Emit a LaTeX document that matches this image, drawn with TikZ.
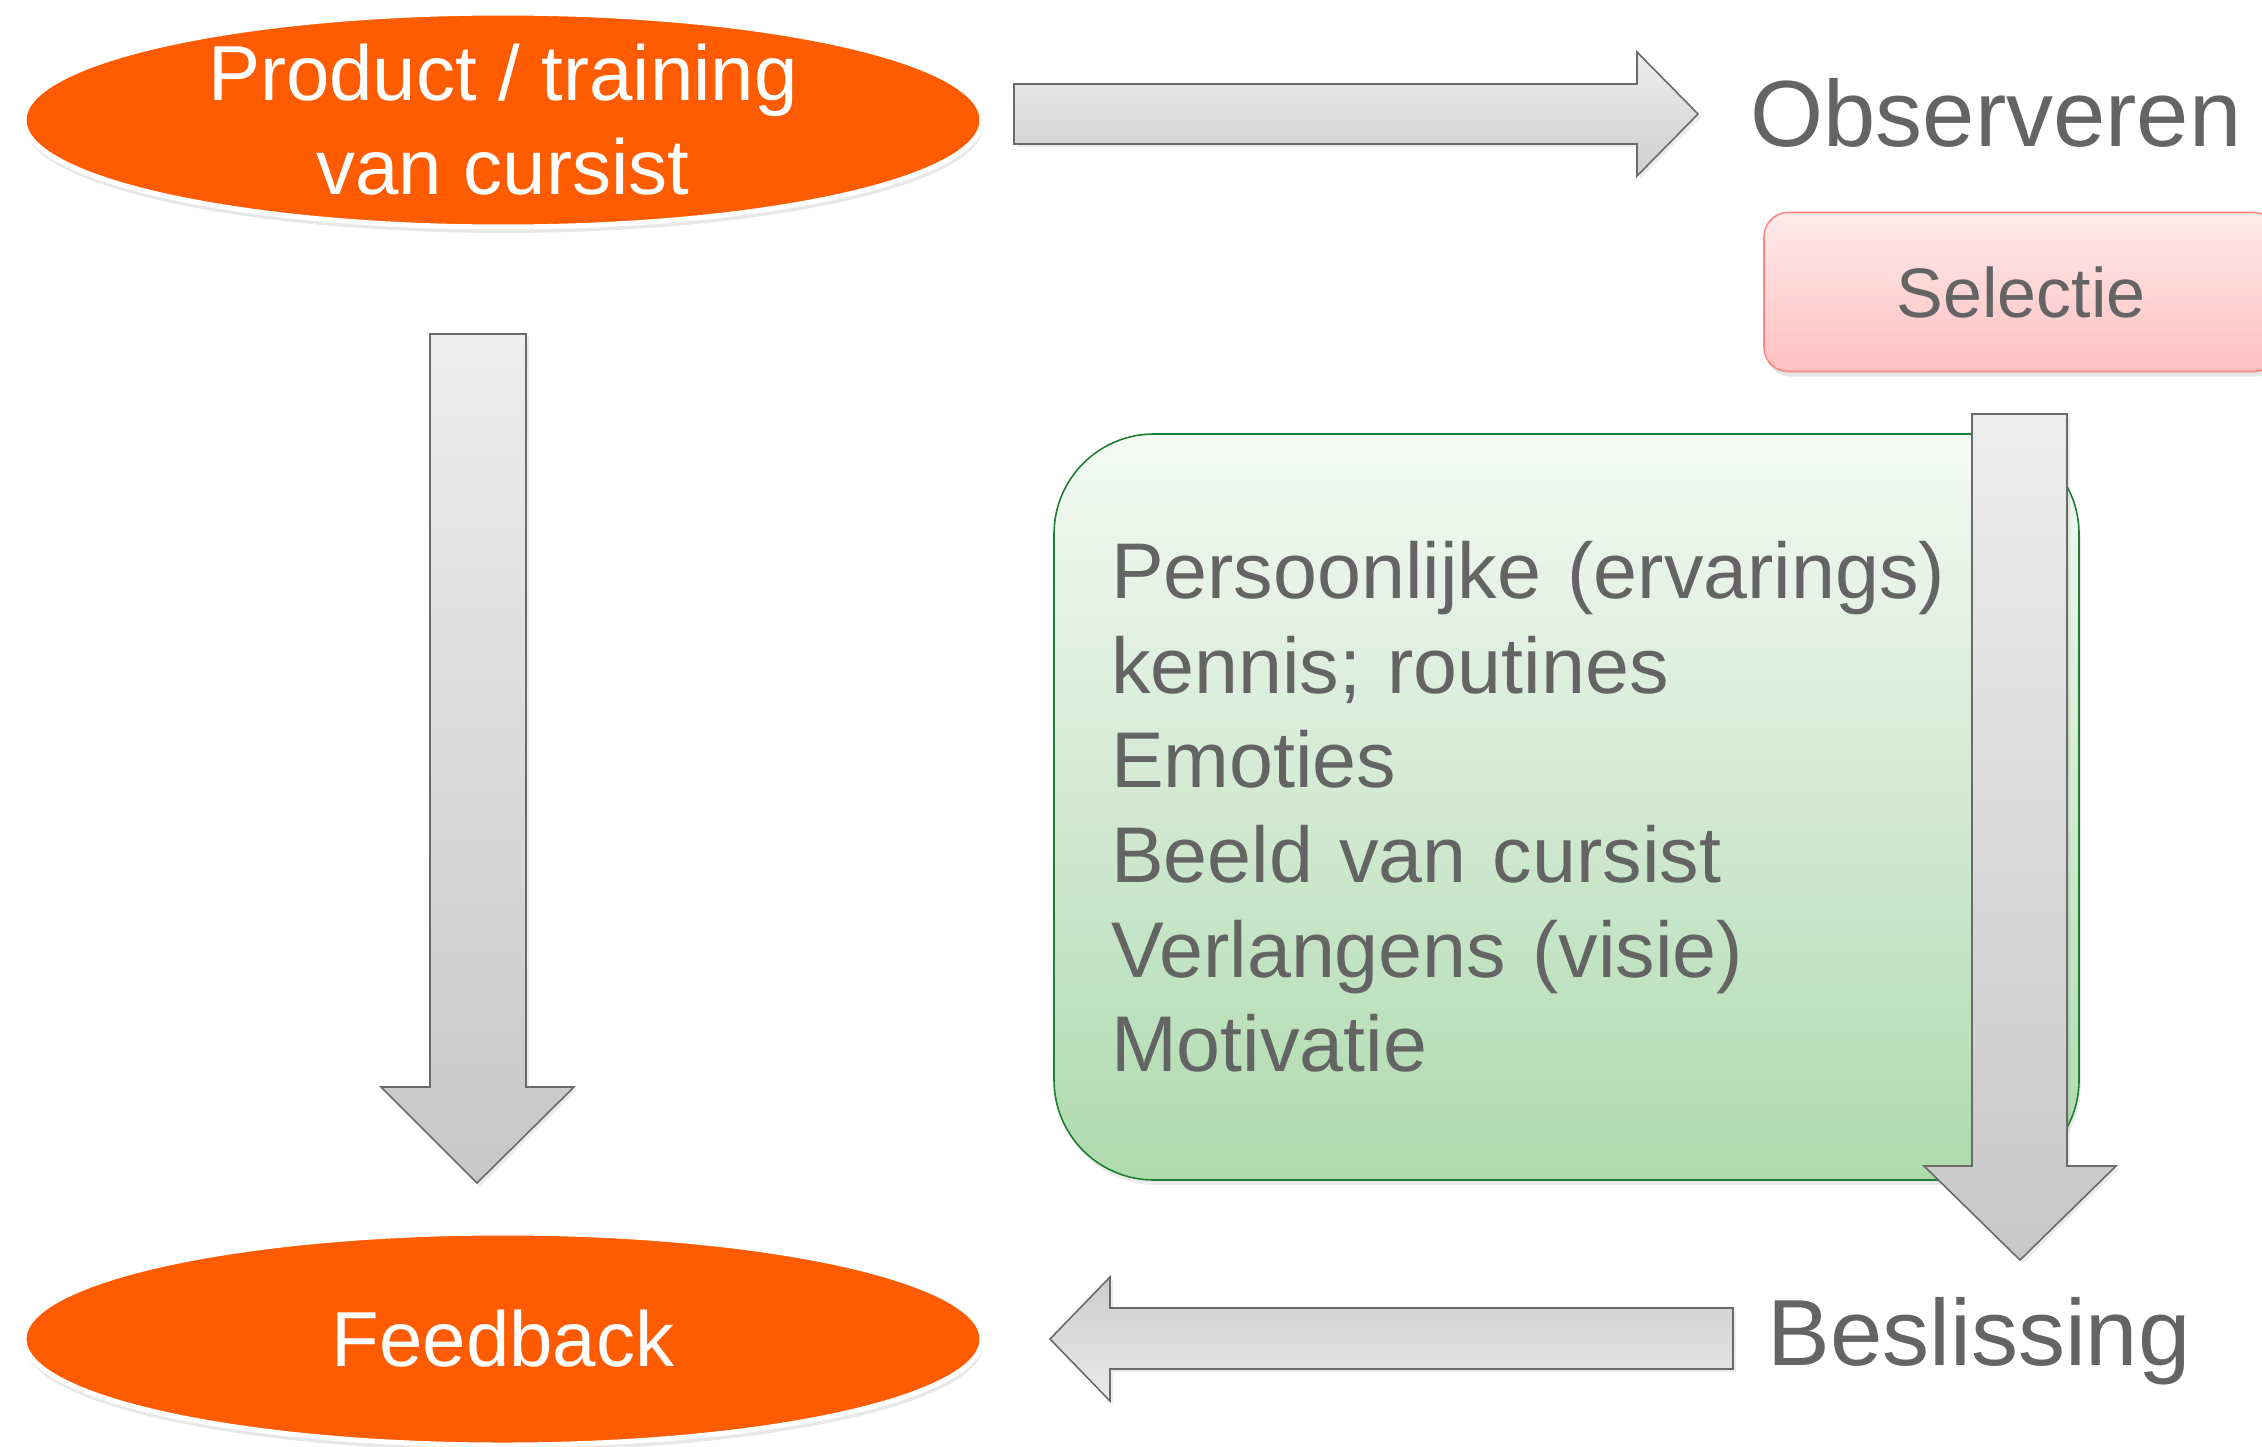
\documentclass[tikz,border=0pt]{standalone}
\usepackage{fontspec}
\setmainfont{Liberation Sans}
\usetikzlibrary{shapes.geometric,shadows}

\definecolor{evalorange}{HTML}{FF5B00}
\definecolor{evalgray}{HTML}{646464}
\definecolor{arrowline}{HTML}{6A6A6A}
\definecolor{greenline}{HTML}{1E7F33}

\tikzset{
  oval/.style={ellipse, fill=evalorange, draw=white, line width=2.5pt,
    text=white, minimum width=479pt, minimum height=106pt, inner sep=0pt,
    align=center, font=\fontsize{39}{47}\selectfont,
    drop shadow={opacity=0.18, shadow xshift=0.5pt, shadow yshift=-3pt}},
  blockarrow/.style={draw=arrowline, line width=0.8pt, line join=miter,
    drop shadow={opacity=0.15, shadow xshift=1.5pt, shadow yshift=-1.5pt}},
  steplabel/.style={text=evalgray, inner sep=0pt, anchor=base west,
    font=\fontsize{47}{56}\selectfont},
}

\begin{document}
\begin{tikzpicture}[x=0.5pt, y=-0.5pt]
    \useasboundingbox (0,0) rectangle (2262,1446);

    % the two orange ovals on the left
    \node[oval] (product) at (503,120) {Product / training\\van cursist};
    \node[oval] (feedback) at (503,1339) {Feedback};

    % the labels on the right
    \node[steplabel] (observe) at (1750,146) {Observeren};
    \node[steplabel] (decide) at (1767,1365) {Beslissing};

    % selection box, runs off the right edge
    \node[draw=red!30!pink, line width=0.8pt, rounded corners=12pt,
      top color=red!8, bottom color=red!25!white, text=evalgray,
      minimum width=257pt, minimum height=79.5pt,
      font=\fontsize{35}{42}\selectfont,
      drop shadow={opacity=0.2, shadow xshift=1pt, shadow yshift=-2.5pt}]
      (select) at (2021,292) {Selectie};

    % green box with the personal filters
    \node[draw=greenline, line width=0.8pt, rounded corners=50pt,
      top color=green!40!black!4!white, bottom color=green!55!black!32!white,
      text=evalgray, minimum width=512.5pt, minimum height=373pt,
      inner xsep=28.5pt, inner ysep=0pt, text width=455.5pt, align=left,
      font=\fontsize{39.5}{47.3}\selectfont,
      drop shadow={opacity=0.15, shadow xshift=1pt, shadow yshift=-2.5pt}]
      (filters) at (1566.5,807) {Persoonlijke (ervarings)\\kennis; routines\\Emoties\\Beeld van cursist\\Verlangens (visie)\\Motivatie};

    % product -> observeren
    \draw[blockarrow, top color=black!7, bottom color=black!19]
      (1014,84) -- (1637,84) -- (1637,52) -- (1698,114) -- (1637,176)
      -- (1637,144) -- (1014,144) -- cycle;

    % selectie -> beslissing
    \draw[blockarrow, top color=black!7, bottom color=black!22]
      (1972,414) -- (2067,414) -- (2067,1166) -- (2116,1166) -- (2020,1260)
      -- (1924,1166) -- (1972,1166) -- cycle;

    % beslissing -> feedback
    \draw[blockarrow, top color=black!20, bottom color=black!8]
      (1733,1308) -- (1110,1308) -- (1110,1277) -- (1050,1339) -- (1110,1401)
      -- (1110,1369) -- (1733,1369) -- cycle;

    % product -> feedback
    \draw[blockarrow, top color=black!7, bottom color=black!22]
      (430,334) -- (526,334) -- (526,1087) -- (574,1087) -- (477,1183)
      -- (381,1087) -- (430,1087) -- cycle;
\end{tikzpicture}
\end{document}
